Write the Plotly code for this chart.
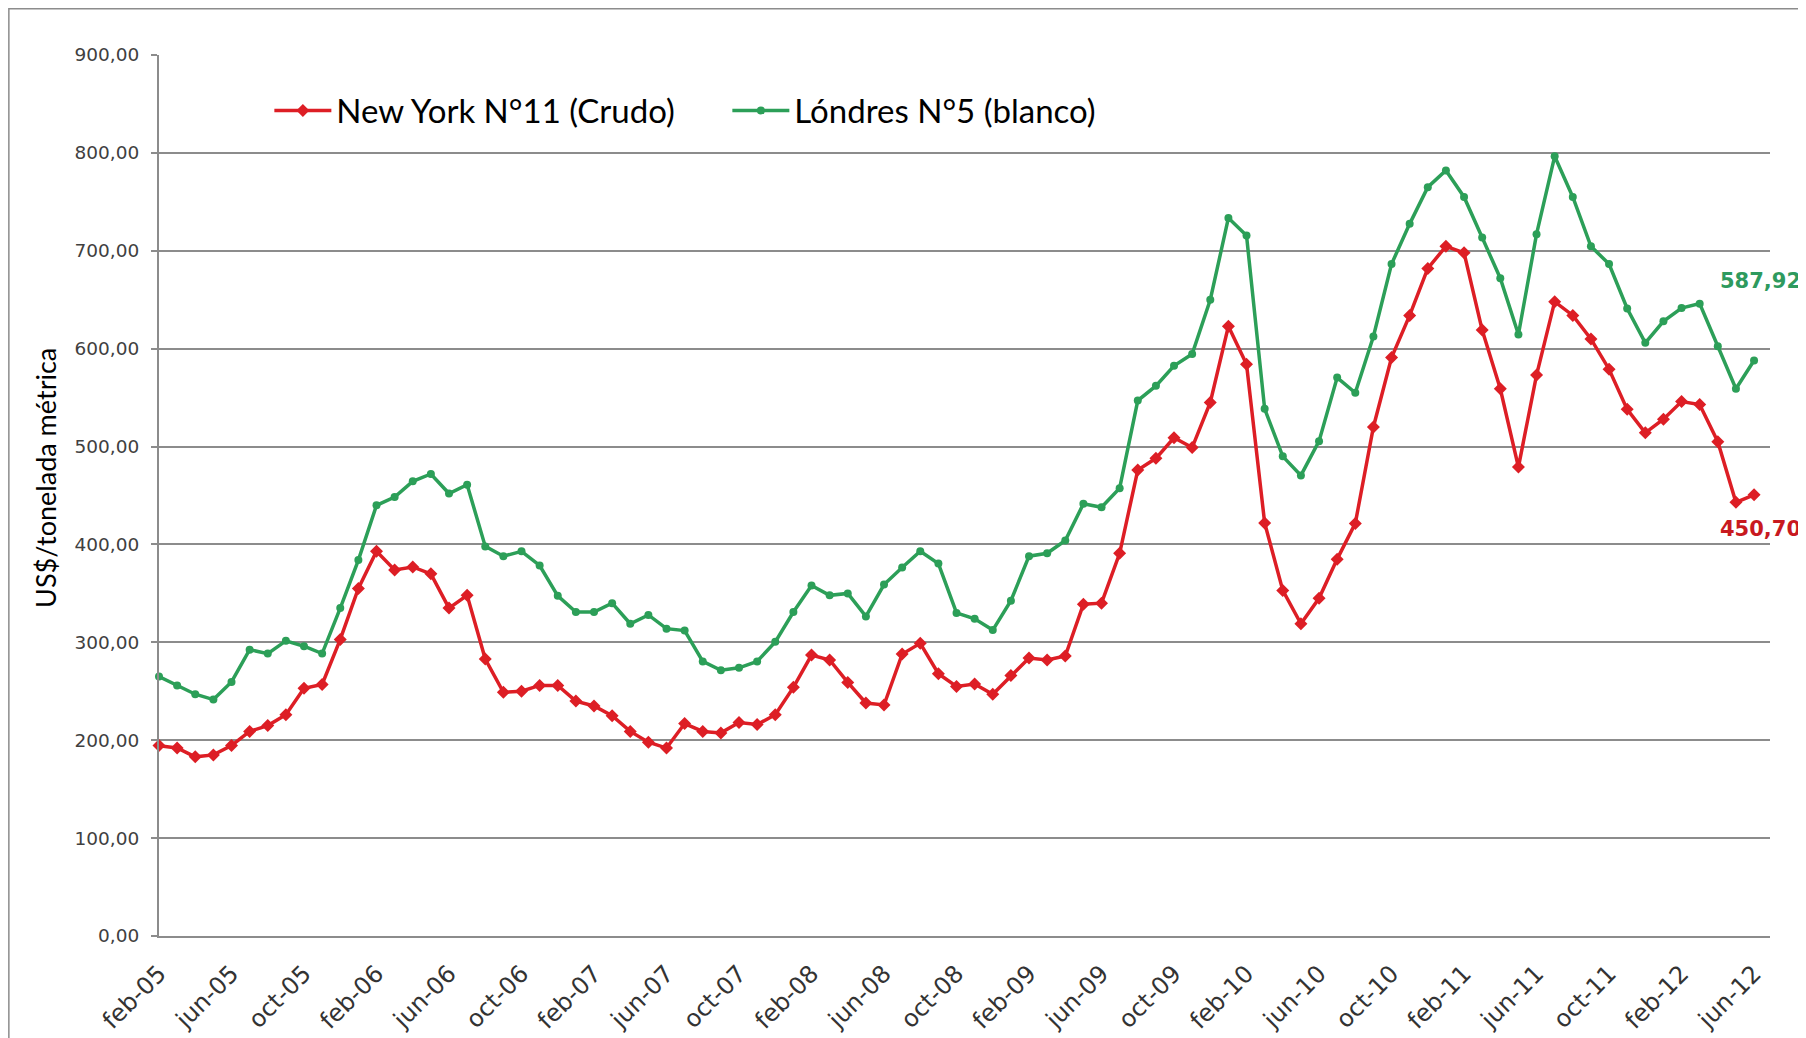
import plotly.graph_objects as go

# ---- data ----
month_abbr = ["ene", "feb", "mar", "abr", "may", "jun", "jul", "ago", "sep", "oct", "nov", "dic"]
start_year, start_month = 2005, 2   # feb-05
n_months = 89                        # feb-05 .. jun-12

months = []
for k in range(n_months):
    m = (start_month - 1 + k) % 12
    y = start_year + (start_month - 1 + k) // 12
    months.append(f"{month_abbr[m]}-{str(y)[2:]}")

new_york_11 = [
    194.5, 192, 183, 185, 194.5, 209, 215, 226, 253, 257, 303,
    355, 393, 374, 377, 370, 335, 348, 283, 249, 250, 256, 256,
    240, 235, 225, 209, 198, 192, 217, 209, 207.5, 218, 216, 226,
    254, 287, 282, 259, 238, 236, 288, 299, 268, 255, 257.5, 247,
    266, 284, 282, 286, 339, 340, 391, 476, 488, 509, 499, 545,
    623, 584, 422, 353, 319, 345, 385, 421.5, 520, 591, 634, 682,
    704.5, 698, 619, 559, 479, 573, 648, 634, 610, 579, 538, 514,
    528, 546, 543, 505, 443, 450.70,
]

londres_5 = [
    265, 256, 247, 241.5, 259.5, 292.5, 288.5, 301.5, 296, 288.5, 335,
    384, 440, 448.5, 464.5, 472, 452, 461, 398, 388, 393, 378.5, 347.5,
    331, 331, 340, 319, 328, 314, 312, 280.5, 271.5, 274, 280.5, 300.5,
    331, 358, 348, 350, 326.5, 359, 376.5, 393, 380.5, 330, 324, 312.5,
    342.5, 388, 391, 404, 441.5, 438, 457.5, 547, 562, 582.5, 594.5, 650,
    733.5, 715.5, 538.5, 490, 470.5, 505.5, 570.5, 555, 612.5, 686.5, 727.5, 765,
    782, 755, 713.5, 672, 614.5, 717, 796.5, 755, 704.5, 686.5, 641, 606,
    628, 641.5, 646, 602.5, 559, 587.92,
]

tick_labels = months[::4]
y_ticks = [0, 100, 200, 300, 400, 500, 600, 700, 800, 900]

RED = "#DD1E25"
GREEN = "#2C9F58"
GRID = "#8C8C8C"

fig = go.Figure()
fig.add_trace(go.Scatter(
    x=months, y=new_york_11, name="New York N°11 (Crudo)",
    mode="lines+markers",
    line=dict(color=RED, width=3.5),
    marker=dict(symbol="diamond", size=10, color=RED),
    cliponaxis=False,
))
fig.add_trace(go.Scatter(
    x=months, y=londres_5, name="Lóndres N°5 (blanco)",
    mode="lines+markers",
    line=dict(color=GREEN, width=3.5),
    marker=dict(symbol="circle", size=8, color=GREEN),
    cliponaxis=False,
))

fig.add_annotation(x=months[-1], y=londres_5[-1], xref="x", yref="y",
                   text="<b>587,92</b>", showarrow=False, xanchor="left", yanchor="middle",
                   xshift=-36, yshift=79,
                   font=dict(family="DejaVu Sans", size=21, color="#2E9A5E"))
fig.add_annotation(x=months[-1], y=new_york_11[-1], xref="x", yref="y",
                   text="<b>450,70</b>", showarrow=False, xanchor="left", yanchor="middle",
                   xshift=-36, yshift=-34,
                   font=dict(family="DejaVu Sans", size=21, color="#C8191F"))

# y-axis title
fig.add_annotation(x=-0.0701, y=0.520, xref="paper", yref="paper",
                   text="US$/tonelada métrica", textangle=-90, showarrow=False,
                   xanchor="center", yanchor="middle",
                   font=dict(family="Lato", size=27, color="#000000"))

# outer chart-area frame
fig.add_shape(type="rect", xref="paper", yref="paper",
              x0=-0.0932, x1=1.05, y0=-0.2, y1=1.0525,
              line=dict(color="#8C8C8C", width=1.5), fillcolor="rgba(0,0,0,0)", layer="below")

# page body has an 8px margin -> figure is 8px smaller and margins compensated
fig.update_layout(
    width=1798, height=1030,
    margin=dict(l=151, r=36, t=47, b=102, autoexpand=False),
    paper_bgcolor="white", plot_bgcolor="white",
    separators=",.",
    showlegend=True,
    legend=dict(
        orientation="h", x=0.0685, y=0.937, xanchor="left", yanchor="middle",
        font=dict(family="Lato", size=33, color="#000000"),
        bgcolor="rgba(0,0,0,0)", itemwidth=57, entrywidth=386, entrywidthmode="pixels",
    ),
    xaxis=dict(
        type="category", range=[0, 88.88], automargin=False,
        tickmode="array", tickvals=tick_labels, ticktext=tick_labels,
        tickangle=-45, showgrid=False,
        showline=True, linecolor=GRID, linewidth=2,
        ticks="", ticklabelstandoff=12,
        tickfont=dict(family="DejaVu Sans", size=24, color="#333333"),
        zeroline=False,
    ),
    yaxis=dict(
        range=[0, 900], tickvals=y_ticks, tickformat=".2f", automargin=False,
        showgrid=True, gridcolor=GRID, gridwidth=1.6,
        showline=True, linecolor=GRID, linewidth=2,
        ticks="outside", ticklen=6, tickcolor=GRID, tickwidth=1.5,
        ticklabelstandoff=8,
        tickfont=dict(family="DejaVu Sans", size=18.5, color="#404040"),
        zeroline=False,
    ),
)

fig.write_html("out.html")
